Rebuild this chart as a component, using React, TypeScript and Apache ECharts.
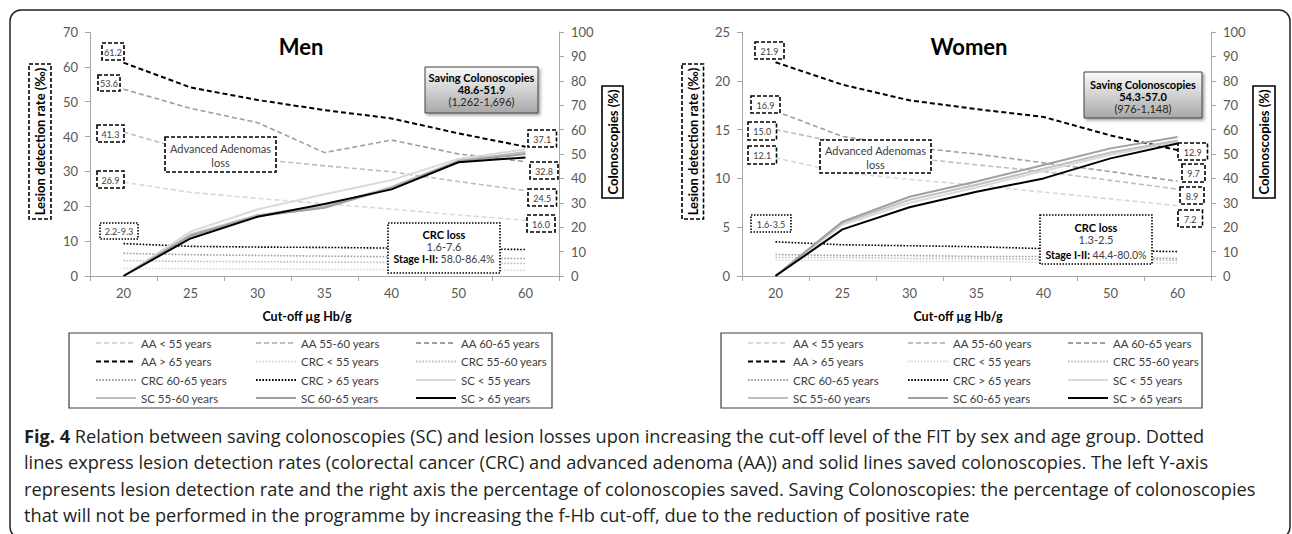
import React, { useEffect, useRef } from "react";
import * as echarts from "echarts";

const categories = ["20", "25", "30", "35", "40", "50", "60"];

// Men – lesion detection rate (‰)
const menAA55 = [26.9, 24.0, 22.3, 20.7, 19.2, 17.5, 16.0];
const menAA5560 = [41.3, 35.8, 33.5, 31.6, 29.9, 27.1, 24.5];
const menAA6065 = [53.6, 48.1, 44.0, 35.4, 39.0, 35.0, 32.8];
const menAA65 = [61.2, 54.1, 50.5, 47.6, 45.2, 40.9, 37.1];
const menCRC55 = [2.2, 2.1, 2.0, 1.9, 1.8, 1.7, 1.6];
const menCRC5560 = [4.4, 4.2, 4.1, 4.0, 3.9, 3.7, 3.6];
const menCRC6065 = [6.5, 6.1, 5.9, 5.7, 5.5, 5.2, 5.0];
const menCRC65 = [9.3, 8.5, 8.3, 8.2, 8.0, 7.8, 7.6];
// Men – saved colonoscopies (%)
const menSC55 = [0, 18.2, 27.3, 33.5, 39.3, 48.0, 51.9];
const menSC5560 = [0, 17.0, 25.0, 28.5, 36.5, 47.3, 50.8];
const menSC6065 = [0, 16.5, 24.5, 28.0, 36.0, 47.0, 50.0];
const menSC65 = [0, 15.4, 24.3, 29.5, 35.5, 46.6, 48.6];

// Women – lesion detection rate (‰)
const womenAA55 = [12.1, 10.6, 9.9, 9.3, 8.6, 7.9, 7.2];
const womenAA5560 = [15.0, 13.6, 12.1, 11.4, 10.7, 9.8, 8.9];
const womenAA6065 = [16.9, 14.3, 13.2, 12.5, 11.6, 10.7, 9.7];
const womenAA65 = [21.9, 19.6, 18.0, 17.1, 16.3, 14.4, 12.9];
const womenCRC55 = [1.6, 1.6, 1.5, 1.5, 1.4, 1.4, 1.3];
const womenCRC5560 = [1.9, 1.9, 1.8, 1.8, 1.7, 1.7, 1.6];
const womenCRC6065 = [2.2, 2.1, 2.1, 2.0, 2.0, 1.9, 1.8];
const womenCRC65 = [3.5, 3.2, 3.1, 3.0, 2.8, 2.6, 2.5];
// Women – saved colonoscopies (%)
const womenSC55 = [0, 21.0, 30.0, 36.3, 43.0, 49.7, 55.0];
const womenSC5560 = [0, 21.8, 31.2, 37.4, 44.0, 50.6, 55.5];
const womenSC6065 = [0, 22.3, 32.5, 38.7, 45.5, 52.3, 57.0];
const womenSC65 = [0, 19.1, 28.2, 34.5, 40.0, 48.2, 54.3];

const seriesNames = [
  "AA < 55 years", "AA 55-60 years", "AA 60-65 years", "AA > 65 years",
  "CRC < 55 years", "CRC 55-60 years", "CRC 60-65 years", "CRC > 65 years",
  "SC < 55 years", "SC 55-60 years", "SC 60-65 years", "SC > 65 years",
];

// legend layout: rows of three
const legendRows = [
  ["AA < 55 years", "AA 55-60 years", "AA 60-65 years"],
  ["AA > 65 years", "CRC < 55 years", "CRC 55-60 years"],
  ["CRC 60-65 years", "CRC > 65 years", "SC < 55 years"],
  ["SC 55-60 years", "SC 60-65 years", "SC > 65 years"],
];

const captionLines = [
  "{b|Fig. 4} Relation between saving colonoscopies (SC) and lesion losses upon increasing the cut-off level of the FIT by sex and age group. Dotted",
  "lines express lesion detection rates (colorectal cancer (CRC) and advanced adenoma (AA)) and solid lines saved colonoscopies. The left Y-axis",
  "represents lesion detection rate and the right axis the percentage of colonoscopies saved. Saving Colonoscopies: the percentage of colonoscopies",
  "that will not be performed in the programme by increasing the f-Hb cut-off, due to the reduction of positive rate",
];

const FONT = "Lato, 'Open Sans', sans-serif";
const CAPFONT = "'Open Sans', 'Noto Sans', sans-serif";
const COLORS = ["#d9d9d9", "#bfbfbf", "#9f9f9f", "#000000"];

function styleFor(i: number) {
  const group = Math.floor(i / 4);
  const k = i % 4;
  if (group === 0) return { color: COLORS[k], width: k === 3 ? 2 : 1.6, type: [5, 3] as any };
  if (group === 1) return { color: COLORS[k], width: 1.6, type: [1.6, 1.6] as any };
  return { color: COLORS[k], width: 2, type: "solid" as any };
}

function buildSeries(g: number, sets: number[][]) {
  return sets.map((d, i) => {
    const st = styleFor(i);
    return {
      name: seriesNames[i],
      type: "line",
      xAxisIndex: g,
      yAxisIndex: i >= 8 ? g * 2 + 1 : g * 2,
      data: d,
      symbol: "none",
      showSymbol: false,
      color: st.color,
      lineStyle: { color: st.color, width: st.width, type: st.type },
      z: 2 + i,
    };
  });
}

function fmt(v: number) {
  return v.toFixed(1);
}

function dashRect(x: number, y: number, w: number, h: number, dash: any, lw = 1.6, extra: any = {}) {
  return {
    type: "rect",
    shape: { x, y, width: w, height: h },
    style: { fill: "#fff", stroke: "#000", lineWidth: lw, lineDash: dash, ...extra },
    z: 50,
  };
}

function txt(x: number, y: number, text: string, size: number, weight = "normal", fill = "#404040", align = "center", extra: any = {}, family = FONT) {
  return {
    type: "text",
    x,
    y,
    z: 60,
    style: {
      text,
      fontSize: size,
      fontWeight: weight,
      fontFamily: family,
      fill,
      align,
      verticalAlign: "middle",
      textAlign: align,
      textVerticalAlign: "middle",
      ...extra,
    },
  };
}

function valueBox(x: number, y: number, w: number, h: number, v: string, dash: any) {
  return [dashRect(x, y, w, h, dash), txt(x + w / 2, y + h / 2 + 0.5, v, 9)];
}

function savingBox(x: number, y: number, w: number, h: number) {
  return {
    type: "rect",
    shape: { x, y, width: w, height: h },
    style: {
      fill: new echarts.graphic.LinearGradient(0, 0, 0, 1, [
        { offset: 0, color: "#fbfbfb" },
        { offset: 1, color: "#a8a8a8" },
      ]),
      stroke: "#404040",
      lineWidth: 1,
      shadowBlur: 3,
      shadowOffsetX: 2,
      shadowOffsetY: 2,
      shadowColor: "rgba(0,0,0,0.35)",
    },
    z: 50,
  };
}

export default function App() {
  const ref = useRef<HTMLDivElement>(null);

  useEffect(() => {
    if (!ref.current) return;
    const chart = echarts.init(ref.current, undefined, { renderer: "svg" });

    const grids = [
      { left: 90, top: 32, width: 469, height: 244 },
      { left: 742, top: 32, width: 469, height: 244 },
    ];

    const axisColor = "#a6a6a6";
    const xAxes = grids.map((_, g) => ({
      type: "category",
      gridIndex: g,
      data: categories,
      boundaryGap: true,
      axisLine: { lineStyle: { color: axisColor, width: 1 } },
      axisTick: { show: true, length: 5, lineStyle: { color: axisColor } },
      axisLabel: { color: "#595959", fontSize: 13, fontFamily: FONT, margin: 10 },
      splitLine: { show: false },
    }));

    const yAxes: any[] = [];
    [70, 25].forEach((mx, g) => {
      yAxes.push({
        type: "value",
        gridIndex: g,
        position: "left",
        min: 0,
        max: mx,
        interval: mx === 70 ? 10 : 5,
        axisLine: { show: true, lineStyle: { color: axisColor } },
        axisTick: { show: true, length: 5, lineStyle: { color: axisColor } },
        axisLabel: { color: "#595959", fontSize: 13, fontFamily: FONT, margin: 12 },
        splitLine: { show: false },
      });
      yAxes.push({
        type: "value",
        gridIndex: g,
        position: "right",
        min: 0,
        max: 100,
        interval: 10,
        axisLine: { show: true, lineStyle: { color: axisColor } },
        axisTick: { show: true, length: 5, lineStyle: { color: axisColor } },
        axisLabel: { color: "#595959", fontSize: 13, fontFamily: FONT, margin: 12 },
        splitLine: { show: false },
      });
    });

    const menSets = [menAA55, menAA5560, menAA6065, menAA65, menCRC55, menCRC5560, menCRC6065, menCRC65, menSC55, menSC5560, menSC6065, menSC65];
    const womenSets = [womenAA55, womenAA5560, womenAA6065, womenAA65, womenCRC55, womenCRC5560, womenCRC6065, womenCRC65, womenSC55, womenSC5560, womenSC6065, womenSC65];

    const legendXs = [[95, 255, 415], [747, 907, 1067]];
    const rowYs = [344, 362.5, 381, 399];
    const legends: any[] = [];
    legendXs.forEach((xs) => {
      legendRows.forEach((row, r) => {
        row.forEach((name, c) => {
          legends.push({
            orient: "horizontal",
            left: xs[c],
            top: rowYs[r] - 7,
            padding: 0,
            itemWidth: 40,
            itemHeight: 14,
            itemGap: 0,
            selectedMode: false,
            data: [name],
            itemStyle: { opacity: 0 },
            textStyle: { color: "#404040", fontSize: 11.5, fontFamily: FONT },
          });
        });
      });
    });

    const dash = [4, 2];
    const dot = [1.5, 1.5];
    const last = 6;

    const graphic: any[] = [
      // outer frame
      {
        type: "rect",
        shape: { x: 10, y: 10, width: 1280, height: 528, r: 11 },
        style: { fill: "none", stroke: "#231f20", lineWidth: 1.5 },
        z: 1,
      },
      // legend boxes
      { type: "rect", shape: { x: 69, y: 333, width: 483, height: 75 }, style: { fill: "none", stroke: "#404040", lineWidth: 1.2 }, z: 1 },
      { type: "rect", shape: { x: 721, y: 333, width: 481, height: 75 }, style: { fill: "none", stroke: "#404040", lineWidth: 1.2 }, z: 1 },
      // titles
      txt(301, 46, "Men", 22, "bold", "#000"),
      txt(969, 46, "Women", 22, "bold", "#000"),
      // x axis names
      txt(307, 316, "Cut-off µg Hb/g", 12.5, "bold", "#000"),
      txt(958, 316, "Cut-off µg Hb/g", 12.5, "bold", "#000"),
      // y axis titles
      dashRect(29, 64, 22, 155, dash),
      { ...txt(40, 141.5, "Lesion detection rate (‰)", 13, "bold", "#000"), rotation: Math.PI / 2 },
      dashRect(682, 64, 21.5, 155, dash),
      { ...txt(692.5, 141.5, "Lesion detection rate (‰)", 13, "bold", "#000"), rotation: Math.PI / 2 },
      dashRect(602, 86, 21, 112, null),
      { ...txt(612.5, 142, "Colonoscopies (%)", 13, "bold", "#000"), rotation: Math.PI / 2 },
      dashRect(1253, 86, 22, 112, null),
      { ...txt(1264, 142, "Colonoscopies (%)", 13, "bold", "#000"), rotation: Math.PI / 2 },
      // Men value boxes
      ...valueBox(102, 43, 22, 17, fmt(menAA65[0]), dash),
      ...valueBox(98, 75, 22, 16, fmt(menAA6065[0]), dash),
      ...valueBox(97, 125, 27, 17, fmt(menAA5560[0]), dash),
      ...valueBox(97, 171, 27, 17, fmt(menAA55[0]), dash),
      ...valueBox(100, 223, 38, 16, `${fmt(menCRC55[0])}-${fmt(menCRC65[0])}`, dot),
      ...valueBox(528, 130, 28.5, 17, fmt(menAA65[last]), dash),
      ...valueBox(530, 162, 28, 17, fmt(menAA6065[last]), dash),
      ...valueBox(528, 189, 28.5, 17, fmt(menAA5560[last]), dash),
      ...valueBox(527, 215, 28, 17, fmt(menAA55[last]), dash),
      // Women value boxes
      ...valueBox(755, 42, 29, 17, fmt(womenAA65[0]), dash),
      ...valueBox(751, 96, 29, 17, fmt(womenAA6065[0]), dash),
      ...valueBox(748, 122, 28.5, 18, fmt(womenAA5560[0]), dash),
      ...valueBox(748, 146, 28.5, 18, fmt(womenAA55[0]), dash),
      ...valueBox(751, 215, 40, 17, `${fmt(womenCRC55[0])}-${fmt(womenCRC65[0])}`, dot),
      ...valueBox(1178, 143, 29.5, 17, fmt(womenAA65[last]), dash),
      ...valueBox(1182, 164, 23, 18, fmt(womenAA6065[last]), dash),
      ...valueBox(1180, 187, 24, 17, fmt(womenAA5560[last]), dash),
      ...valueBox(1178, 210, 24.5, 17, fmt(womenAA55[last]), dash),
      // Advanced adenomas loss
      dashRect(165, 137, 111, 35, dash),
      txt(220.5, 148.5, "Advanced Adenomas", 11),
      txt(220.5, 162.5, "loss", 11),
      dashRect(820, 140, 111, 33, dash),
      txt(875.5, 150.5, "Advanced Adenomas", 11),
      txt(875.5, 164, "loss", 11),
      // CRC loss
      dashRect(388, 223, 112, 50, dot),
      txt(444, 234.5, "CRC loss", 11, "bold", "#000"),
      txt(444, 246.5, `${fmt(menCRC55[last])}-${fmt(menCRC65[last])}`, 11),
      txt(444, 259, "{b|Stage I-II:} 58.0-86.4%", 10.5, "normal", "#404040", "center", {
        rich: { b: { fontWeight: "bold", fill: "#000", fontSize: 10.5, fontFamily: FONT } },
      }),
      dashRect(1040, 215, 112, 49, dot),
      txt(1096, 227, "CRC loss", 11, "bold", "#000"),
      txt(1096, 239.5, `${fmt(womenCRC55[last])}-${fmt(womenCRC65[last])}`, 11),
      txt(1096, 255, "{b|Stage I-II:} 44.4-80.0%", 10.5, "normal", "#404040", "center", {
        rich: { b: { fontWeight: "bold", fill: "#000", fontSize: 10.5, fontFamily: FONT } },
      }),
      // Saving colonoscopies boxes
      savingBox(425, 67, 113, 46),
      txt(481.5, 77, "Saving Colonoscopies", 11, "bold", "#000"),
      txt(481.5, 89.5, "48.6-51.9", 11, "bold", "#000"),
      txt(481.5, 101.5, "(1,262-1,696)", 11, "normal", "#262626"),
      savingBox(1084, 72, 118, 46),
      txt(1143, 84, "Saving Colonoscopies", 11, "bold", "#000"),
      txt(1143, 96.5, "54.3-57.0", 11, "bold", "#000"),
      txt(1143, 108.5, "(976-1,148)", 11, "normal", "#262626"),
      // caption
      ...captionLines.map((line, i) =>
        txt(24, 436 + i * 26.4, line, 18.2, "normal", "#231f20", "left", {
          rich: { b: { fontWeight: "bold", fontSize: 18.2, fontFamily: CAPFONT, fill: "#231f20" } },
        }, CAPFONT)
      ),
    ];

    chart.setOption({
      animation: false,
      backgroundColor: "#ffffff",
      textStyle: { fontFamily: FONT },
      grid: grids,
      xAxis: xAxes,
      yAxis: yAxes,
      legend: legends,
      series: [...buildSeries(0, menSets), ...buildSeries(1, womenSets)],
      graphic,
    });

    return () => chart.dispose();
  }, []);

  return (
    <div
      ref={ref}
      style={{ position: "absolute", left: 0, top: 0, width: 1292, height: 534 }}
    />
  );
}
